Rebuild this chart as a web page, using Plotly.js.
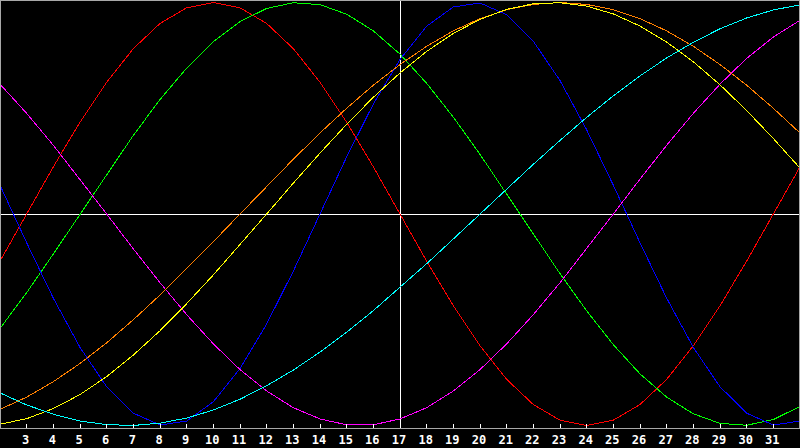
<!DOCTYPE html>
<html>
<head>
<meta charset="utf-8">
<script src="https://cdn.plot.ly/plotly-3.0.1.min.js"></script>
<style>
  html, body { margin: 0; padding: 0; background: #000; }
  #chart { width: 800px; height: 448px; }
  .scatterlayer path, .shapelayer path, .zerolinelayer path { shape-rendering: crispEdges; }
</style>
</head>
<body>
<div id="chart"></div>
<script>
// Days shown on the chart
const days = [2,3,4,5,6,7,8,9,10,11,12,13,14,15,16,17,18,19,20,21,22,23,24,25,26,27,28,29,30,31,32];
const tickDays   = [3,4,5,6,7,8,9,10,11,12,13,14,15,16,17,18,19,20,21,22,23,24,25,26,27,28,29,30,31];
const tickLabels = ["3","4","5","6","7","8","9","10","11","12","13","14","15","16","17","18","19","20","21","22","23","24","25","26","27","28","29","30","31"];
const markerDay = 17;

// Cycle values (-1 .. 1)
const redValues     = [-0.223,0,0.223,0.434,0.623,0.782,0.901,0.975,1,0.975,0.901,0.782,0.623,0.434,0.223,0,-0.223,-0.434,-0.623,-0.782,-0.901,-0.975,-1,-0.975,-0.901,-0.782,-0.623,-0.434,-0.223,0,0.223];
const greenValues   = [-0.541,-0.372,-0.189,0,0.189,0.372,0.541,0.690,0.815,0.910,0.972,0.999,0.990,0.945,0.866,0.756,0.618,0.458,0.282,0.095,-0.095,-0.282,-0.458,-0.618,-0.756,-0.866,-0.945,-0.990,-0.999,-0.972,-0.910];
const blueValues    = [0.136,-0.136,-0.398,-0.631,-0.817,-0.942,-0.998,-0.979,-0.888,-0.731,-0.520,-0.270,0,0.270,0.520,0.731,0.888,0.979,0.998,0.942,0.817,0.631,0.398,0.136,-0.136,-0.398,-0.631,-0.817,-0.942,-0.998,-0.979];
const magentaValues = [0.614,0.476,0.325,0.165,0,-0.165,-0.325,-0.476,-0.614,-0.736,-0.837,-0.916,-0.969,-0.997,-0.997,-0.969,-0.916,-0.837,-0.736,-0.614,-0.476,-0.325,-0.165,0,0.165,0.325,0.476,0.614,0.736,0.837,0.916];
const orangeValues  = [-0.924,-0.866,-0.793,-0.707,-0.609,-0.5,-0.383,-0.259,-0.131,0,0.131,0.259,0.383,0.5,0.609,0.707,0.793,0.866,0.924,0.966,0.991,1,0.991,0.966,0.924,0.866,0.793,0.707,0.609,0.5,0.383];
const yellowValues  = [-0.994,-0.968,-0.920,-0.854,-0.769,-0.667,-0.552,-0.424,-0.288,-0.146,0,0.146,0.288,0.424,0.552,0.667,0.769,0.854,0.920,0.968,0.994,0.999,0.983,0.946,0.889,0.813,0.720,0.611,0.489,0.357,0.217];
const cyanValues    = [-0.846,-0.903,-0.947,-0.979,-0.996,-1.000,-0.989,-0.965,-0.927,-0.876,-0.812,-0.738,-0.653,-0.559,-0.457,-0.348,-0.235,-0.118,0,0.118,0.235,0.348,0.457,0.559,0.653,0.738,0.812,0.876,0.927,0.965,0.989];

const series = [
  { y: redValues,     color: '#ff0000' },
  { y: greenValues,   color: '#00ff00' },
  { y: blueValues,    color: '#0000ff' },
  { y: magentaValues, color: '#ff00ff' },
  { y: orangeValues,  color: '#ff8000' },
  { y: yellowValues,  color: '#ffff00' },
  { y: cyanValues,    color: '#00ffff' }
];

const traces = series.map(s => ({
  type: 'scatter', mode: 'lines', x: days, y: s.y,
  line: { color: s.color, width: 1 }, hoverinfo: 'skip', showlegend: false
}));

const layout = {
  width: 800, height: 448,
  margin: { l: 0, r: 0, t: 0, b: 20, pad: 0 },
  paper_bgcolor: '#000000', plot_bgcolor: '#000000',
  showlegend: false,
  xaxis: {
    range: [2, 32], showgrid: false, zeroline: false, showline: false,
    tickmode: 'array', tickvals: tickDays, ticktext: tickLabels,
    ticks: 'inside', ticklen: 4, tickwidth: 1, tickcolor: '#ffffff',
    ticklabelstandoff: 3, ticklabelshift: -1,
    tickfont: { family: 'DejaVu Sans Mono', size: 12, color: '#ffffff', weight: 'bold' },
    fixedrange: true
  },
  yaxis: {
    range: [-1.012, 1.012], showgrid: false, showticklabels: false, ticks: '',
    zeroline: true, zerolinecolor: '#ffffff', zerolinewidth: 1, showline: false,
    fixedrange: true
  },
  shapes: [
    { type: 'line', layer: 'below', xref: 'x', yref: 'paper', x0: markerDay, x1: markerDay, y0: 0, y1: 1,
      line: { color: '#ffffff', width: 1 } },
    { type: 'rect', layer: 'above', xref: 'paper', yref: 'paper',
      x0: 0.000625, x1: 0.999375, y0: -0.001168, y1: 0.998832,
      line: { color: '#a8a8a8', width: 1 }, fillcolor: 'rgba(0,0,0,0)' }
  ]
};

Plotly.newPlot('chart', traces, layout, { staticPlot: true, displayModeBar: false });
</script>
</body>
</html>
